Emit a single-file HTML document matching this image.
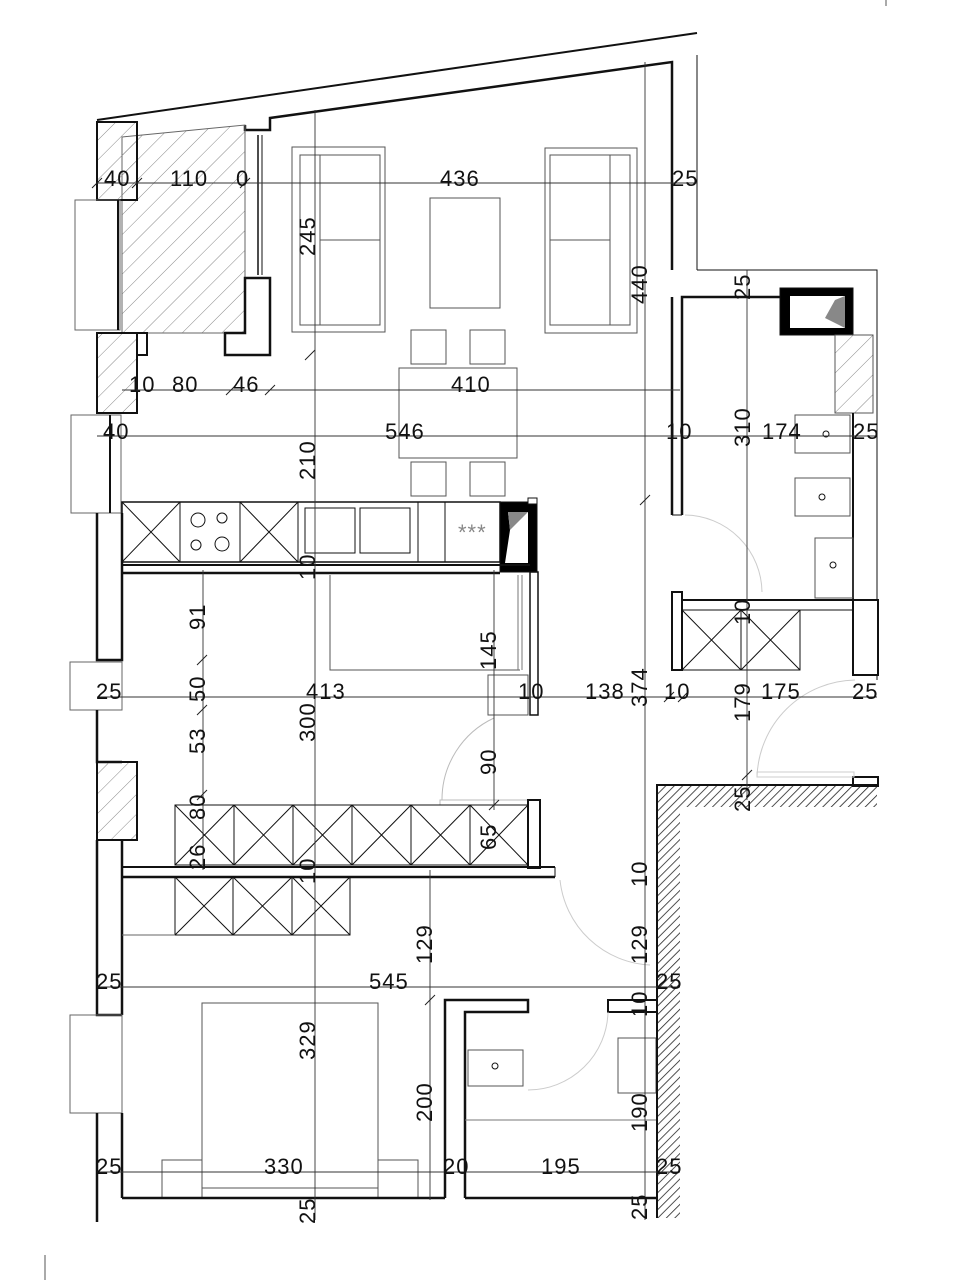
<!DOCTYPE html>
<html><head><meta charset="utf-8"><style>
html,body{margin:0;padding:0;background:#fff;}
svg{display:block}
text{font-family:"Liberation Sans",sans-serif;font-size:22px;letter-spacing:1px;fill:#111;}
</style></head><body>
<svg width="970" height="1280" viewBox="0 0 970 1280" xmlns="http://www.w3.org/2000/svg">
<defs>
<pattern id="h" width="14" height="14" patternUnits="userSpaceOnUse" patternTransform="rotate(45)"><line x1="0" y1="0" x2="0" y2="14" stroke="#888" stroke-width="1"/></pattern>
<pattern id="hd" width="6" height="6" patternUnits="userSpaceOnUse" patternTransform="rotate(45)"><line x1="0" y1="0" x2="0" y2="6" stroke="#222" stroke-width="1.6"/></pattern>
</defs>
<g fill="none" stroke="#111" stroke-width="1">
<line x1="97" y1="120" x2="697" y2="33" stroke-width="2"/>
<polyline points="245,125 245,130 270,130 270,118 672,62 672,270" stroke-width="2.5"/>
<line x1="697" y1="55" x2="697" y2="270"/>
<polyline points="697,270 877,270 877,680"/>
<polygon points="122,137 245,125 245,333 122,333" fill="url(#h)" stroke="#666"/>
<line x1="258" y1="135" x2="258" y2="275" stroke-width="1.5"/>
<line x1="262" y1="135" x2="262" y2="275"/>
<polygon points="245,278 270,278 270,355 225,355 225,333 245,333" stroke-width="2.5" fill="#fff"/>
<rect x="97" y="122" width="40" height="78" fill="url(#h)" stroke-width="2"/>
<rect x="75" y="200" width="45" height="130" stroke="#666"/>
<line x1="118" y1="200" x2="118" y2="330" stroke-width="2"/>
<rect x="97" y="333" width="40" height="80" fill="url(#h)" stroke-width="2"/>
<rect x="137" y="333" width="10" height="22" stroke-width="2"/>
<rect x="71" y="415" width="50" height="98" stroke="#666"/>
<line x1="110" y1="415" x2="110" y2="513" stroke-width="2"/>
<polyline points="97,513 97,660 122,660 122,513" stroke-width="2.5"/>
<rect x="70" y="662" width="52" height="48" stroke="#666"/>
<polyline points="97,710 97,762 122,762" stroke-width="2.5"/>
<rect x="97" y="762" width="40" height="78" fill="url(#h)" stroke-width="2"/>
<polyline points="97,840 97,1015 122,1015" stroke-width="2.5"/>
<line x1="122" y1="840" x2="122" y2="1015" stroke-width="2.5"/>
<rect x="70" y="1015" width="52" height="98" stroke="#666"/>
<line x1="97" y1="1113" x2="97" y2="1222" stroke-width="2.5"/>
<line x1="122" y1="1113" x2="122" y2="1198" stroke-width="2.5"/>
<rect x="292" y="147" width="93" height="185" stroke="#555"/>
<rect x="300" y="155" width="80" height="170" stroke="#555"/>
<line x1="320" y1="155" x2="320" y2="325" stroke="#555"/>
<line x1="320" y1="240" x2="380" y2="240" stroke="#555"/>
<rect x="545" y="148" width="92" height="185" stroke="#555"/>
<rect x="550" y="155" width="80" height="170" stroke="#555"/>
<line x1="610" y1="155" x2="610" y2="325" stroke="#555"/>
<line x1="550" y1="240" x2="610" y2="240" stroke="#555"/>
<rect x="430" y="198" width="70" height="110" stroke="#555"/>
<rect x="411" y="330" width="35" height="34" stroke="#555"/>
<rect x="470" y="330" width="35" height="34" stroke="#555"/>
<rect x="399" y="368" width="118" height="90" stroke="#555"/>
<rect x="411" y="462" width="35" height="34" stroke="#555"/>
<rect x="470" y="462" width="35" height="34" stroke="#555"/>
<rect x="122" y="502" width="378" height="60" stroke-width="1.5"/>
<line x1="180" y1="502" x2="180" y2="562"/><line x1="240" y1="502" x2="240" y2="562"/><line x1="298" y1="502" x2="298" y2="562"/><line x1="418" y1="502" x2="418" y2="562"/><line x1="445" y1="502" x2="445" y2="562"/>
<path d="M122 502L180 562M180 502L122 562M240 502L298 562M298 502L240 562"/>
<circle cx="198" cy="520" r="7"/><circle cx="222" cy="518" r="5"/><circle cx="196" cy="545" r="5"/><circle cx="222" cy="544" r="7"/>
<rect x="305" y="508" width="50" height="45"/><rect x="360" y="508" width="50" height="45"/>
<rect x="500" y="502" width="37" height="70" fill="#000"/>
<polygon points="508,512 528,512 528,563 505,563 510,530" fill="#fff" stroke="none"/>
<polygon points="508,512 528,512 510,530" fill="#888" stroke="none"/>
<rect x="528" y="498" width="9" height="6" fill="#fff"/>
<line x1="122" y1="565" x2="530" y2="565" stroke-width="2"/>
<line x1="122" y1="573" x2="500" y2="573" stroke-width="2.5"/>
<rect x="530" y="572" width="8" height="143" stroke-width="1.5"/>
<polyline points="330,575 330,670 520,670" stroke="#555"/>
<line x1="518" y1="575" x2="518" y2="670" stroke="#777"/><line x1="522" y1="575" x2="522" y2="670" stroke="#777"/>
<rect x="488" y="675" width="40" height="40" stroke="#555"/>
<path d="M442 800A90 90 0 0 1 494 718" stroke="#bbb"/>
<rect x="440" y="800" width="88" height="5" stroke="#bbb"/>
<rect x="175" y="805" width="353" height="60"/>
<path d="M175 805L234 865M234 805L175 865M234 805L293 865M293 805L234 865M293 805L352 865M352 805L293 865M352 805L411 865M411 805L352 865M411 805L470 865M470 805L411 865M470 805L528 865M528 805L470 865M234 805V865M293 805V865M352 805V865M411 805V865M470 805V865"/>
<rect x="528" y="800" width="12" height="68" stroke-width="2"/>
<line x1="122" y1="867" x2="555" y2="867" stroke-width="2"/>
<line x1="122" y1="877" x2="555" y2="877" stroke-width="2.5"/>
<line x1="555" y1="867" x2="555" y2="877"/>
<rect x="175" y="877" width="175" height="58"/>
<path d="M175 877L233 935M233 877L175 935M233 877L292 935M292 877L233 935M292 877L350 935M350 877L292 935M233 877V935M292 877V935"/>
<line x1="122" y1="935" x2="175" y2="935" stroke="#666"/>
<path d="M560 880A95 95 0 0 0 650 965" stroke="#ccc"/>
<rect x="202" y="1003" width="176" height="195" stroke="#555"/>
<rect x="162" y="1160" width="40" height="38" stroke="#555"/><rect x="378" y="1160" width="40" height="38" stroke="#555"/>
<line x1="202" y1="1188" x2="378" y2="1188" stroke="#555"/>
<line x1="122" y1="1198" x2="445" y2="1198" stroke-width="2.5"/>
<polyline points="445,1198 445,1000 528,1000 528,1012 465,1012 465,1198" stroke-width="2.5"/>
<line x1="465" y1="1198" x2="657" y2="1198" stroke-width="2.5"/>
<line x1="465" y1="1120" x2="657" y2="1120" stroke="#777"/>
<rect x="468" y="1050" width="55" height="36" stroke="#555"/><circle cx="495" cy="1066" r="3"/>
<rect x="618" y="1038" width="38" height="55" stroke="#555"/>
<rect x="608" y="1000" width="49" height="12" stroke-width="2"/>
<path d="M528 1090A80 80 0 0 0 608 1012" stroke="#ccc"/>
<polygon points="657,785 877,785 877,807 680,807 680,1218 657,1218" fill="url(#hd)" stroke="none"/>
<polyline points="877,785 657,785 657,1218" stroke-width="2"/>
<rect x="853" y="777" width="25" height="9" stroke-width="2"/>
<path d="M757 777A100 100 0 0 1 855 680" stroke="#ccc"/>
<rect x="757" y="772" width="97" height="5" stroke="#ccc"/>
<polyline points="682,515 682,297 780,297" stroke-width="2.5"/>
<line x1="672" y1="297" x2="672" y2="515" stroke-width="2.5"/>
<line x1="672" y1="515" x2="682" y2="515"/>
<rect x="780" y="288" width="73" height="47" fill="#000"/>
<polygon points="790,296 845,296 845,328 825,328 790,328" fill="#fff" stroke="none"/>
<polygon points="845,296 845,328 825,318 835,300" fill="#888" stroke="none"/>
<rect x="835" y="335" width="38" height="78" fill="url(#h)" stroke="#555"/>
<line x1="853" y1="413" x2="853" y2="600" stroke-width="2"/>
<rect x="795" y="415" width="55" height="38" stroke="#555"/><rect x="795" y="478" width="55" height="38" stroke="#555"/><rect x="815" y="538" width="38" height="60" stroke="#555"/>
<circle cx="826" cy="434" r="3"/><circle cx="822" cy="497" r="3"/><circle cx="833" cy="565" r="3"/>
<path d="M685 515A78 78 0 0 1 762 592" stroke="#ccc"/>
<rect x="672" y="592" width="10" height="78" stroke-width="2"/>
<line x1="682" y1="600" x2="853" y2="600" stroke-width="2"/>
<line x1="682" y1="610" x2="853" y2="610"/>
<rect x="682" y="610" width="118" height="60"/>
<path d="M682 610L741 670M741 610L682 670M741 610L800 670M800 610L741 670M741 610V670"/>
<rect x="853" y="600" width="25" height="75" stroke-width="2" fill="#fff"/>
<g stroke="#333" stroke-width="0.9">
<line x1="97" y1="183" x2="697" y2="183"/>
<line x1="122" y1="390" x2="680" y2="390"/>
<line x1="97" y1="436" x2="877" y2="436"/>
<line x1="97" y1="697" x2="877" y2="697"/>
<line x1="97" y1="987" x2="680" y2="987"/>
<line x1="97" y1="1172" x2="680" y2="1172"/>
<line x1="315" y1="110" x2="315" y2="1220"/>
<line x1="645" y1="62" x2="645" y2="1220"/>
<line x1="747" y1="270" x2="747" y2="800"/>
<line x1="203" y1="570" x2="203" y2="870"/>
<line x1="430" y1="870" x2="430" y2="1200"/>
<line x1="494" y1="570" x2="494" y2="810"/>
</g>
<g stroke="#222" stroke-width="1">
<path d="M92 188l10-10M132 188l10-10M240 188l10-10M305 360l10-10M226 395l10-10M265 395l10-10M640 505l10-10M197 665l10-10M197 715l10-10M197 800l10-10M425 1005l10-10M489 810l10-10M742 780l10-10M664 702l10-10M678 702l10-10"/>
</g>
</g>
<g>
<text x="104" y="186">40</text><text x="170" y="186">110</text><text x="236" y="186">0</text><text x="440" y="186">436</text><text x="672" y="186">25</text>
<text x="129" y="392">10</text><text x="172" y="392">80</text><text x="233" y="392">46</text><text x="451" y="392">410</text>
<text x="103" y="439">40</text><text x="385" y="439">546</text><text x="666" y="439">10</text><text x="762" y="439">174</text><text x="853" y="439">25</text>
<text x="96" y="699">25</text><text x="306" y="699">413</text><text x="518" y="699">10</text><text x="585" y="699">138</text><text x="664" y="699">10</text><text x="761" y="699">175</text><text x="852" y="699">25</text>
<text x="96" y="989">25</text><text x="369" y="989">545</text><text x="656" y="989">25</text>
<text x="96" y="1174">25</text><text x="264" y="1174">330</text><text x="443" y="1174">20</text><text x="541" y="1174">195</text><text x="656" y="1174">25</text>
</g>
<g>
<text transform="translate(315,256) rotate(-90)">245</text>
<text transform="translate(647,304) rotate(-90)">440</text>
<text transform="translate(750,300) rotate(-90)">25</text>
<text transform="translate(750,447) rotate(-90)">310</text>
<text transform="translate(315,480) rotate(-90)">210</text>
<text transform="translate(315,580) rotate(-90)">10</text>
<text transform="translate(205,630) rotate(-90)">91</text>
<text transform="translate(205,702) rotate(-90)">50</text>
<text transform="translate(205,754) rotate(-90)">53</text>
<text transform="translate(205,820) rotate(-90)">80</text>
<text transform="translate(205,870) rotate(-90)">26</text>
<text transform="translate(496,670) rotate(-90)">145</text>
<text transform="translate(496,775) rotate(-90)">90</text>
<text transform="translate(496,850) rotate(-90)">65</text>
<text transform="translate(315,742) rotate(-90)">300</text>
<text transform="translate(315,884) rotate(-90)">10</text>
<text transform="translate(647,707) rotate(-90)">374</text>
<text transform="translate(750,625) rotate(-90)">10</text>
<text transform="translate(750,722) rotate(-90)">179</text>
<text transform="translate(750,812) rotate(-90)">25</text>
<text transform="translate(647,887) rotate(-90)">10</text>
<text transform="translate(647,964) rotate(-90)">129</text>
<text transform="translate(432,964) rotate(-90)">129</text>
<text transform="translate(647,1017) rotate(-90)">10</text>
<text transform="translate(315,1060) rotate(-90)">329</text>
<text transform="translate(432,1122) rotate(-90)">200</text>
<text transform="translate(647,1132) rotate(-90)">190</text>
<text transform="translate(315,1224) rotate(-90)">25</text>
<text transform="translate(647,1220) rotate(-90)">25</text>
</g>
<text x="458" y="540" style="fill:#888;font-size:22px">***</text>
<line x1="886" y1="0" x2="886" y2="6" stroke="#555"/>
<line x1="45" y1="1255" x2="45" y2="1280" stroke="#555"/>
</svg>
</body></html>
